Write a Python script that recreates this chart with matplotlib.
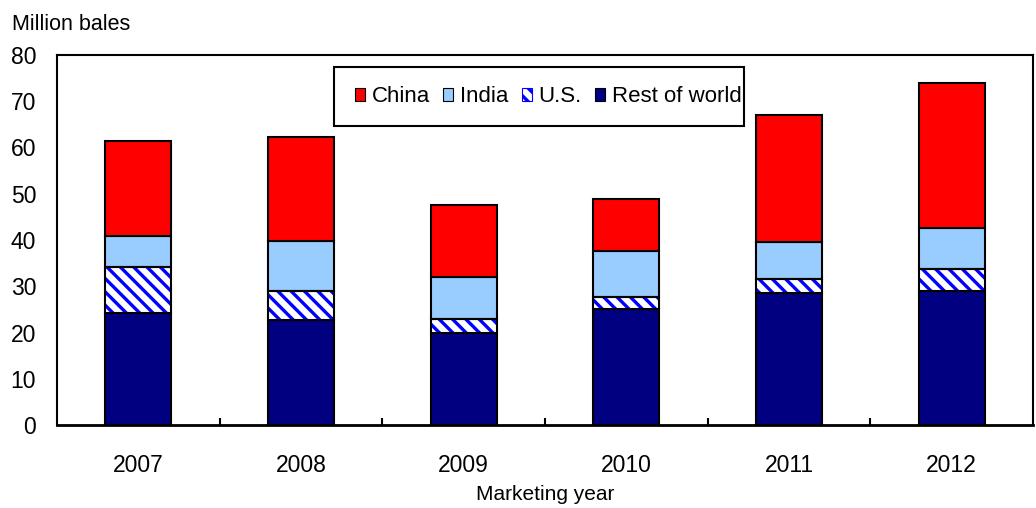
import numpy as np
import matplotlib.pyplot as plt
from matplotlib.patches import Patch, Rectangle

plt.rcParams['font.family'] = ['Liberation Sans', 'DejaVu Sans']

DPI = 80
S = 100 / DPI  # sizes below are given as if at 100 dpi
plt.rcParams['hatch.linewidth'] = 3.0

years = ['2007', '2008', '2009', '2010', '2011', '2012']
rest_of_world = [24.3, 22.8, 20.0, 25.0, 28.6, 29.0]
us = [9.8, 6.2, 2.9, 2.6, 2.9, 4.7]
india = [6.8, 10.8, 9.0, 10.0, 8.1, 9.0]
china = [20.6, 22.5, 15.7, 11.3, 27.4, 31.2]

c_china = '#ff0000'
c_india = '#99ccff'
c_rest = '#000080'
c_us = '#0000ff'

fig = plt.figure(figsize=(1036 / DPI, 508 / DPI), dpi=DPI)
ax = fig.add_axes([57 / 1036, 83 / 508, 976 / 1036, 370 / 508])

x = np.arange(len(years))
w = 0.405
lw = 1.5 * S
rest = np.array(rest_of_world)
us_a = np.array(us)
ind = np.array(india)
chn = np.array(china)

ax.bar(x, rest, w, color=c_rest, edgecolor='black', linewidth=lw, zorder=2)
# hatch drawn in blue, then outlined in black
ax.bar(x, us_a, w, bottom=rest, color='white', edgecolor=c_us, hatch='\\\\',
       linewidth=0, zorder=2)
ax.bar(x, us_a, w, bottom=rest, fill=False, edgecolor='black', linewidth=lw, zorder=3)
ax.bar(x, ind, w, bottom=rest + us_a, color=c_india, edgecolor='black', linewidth=lw, zorder=2)
ax.bar(x, chn, w, bottom=rest + us_a + ind, color=c_china, edgecolor='black',
       linewidth=lw, zorder=2)

ax.set_xlim(-0.5, len(years) - 0.5)
ax.set_ylim(0, 80)
ax.set_yticks(np.arange(0, 81, 10))
ax.tick_params(axis='y', length=0, pad=15 * S, labelsize=16.5 * S)
ax.set_xticks(x)
ax.set_xticklabels(years)
ax.tick_params(axis='x', which='major', length=0, pad=21 * S, labelsize=16.5 * S)
ax.set_xticks(np.arange(0.5, len(years) - 1, 1), minor=True)
ax.tick_params(axis='x', which='minor', direction='in', length=5 * S, width=lw)
for s in ax.spines.values():
    s.set_linewidth(lw)
ax.spines['bottom'].set_linewidth(2 * S)

ax.set_xlabel('Marketing year', fontsize=15 * S, labelpad=6 * S)
fig.text(12 / 1036, 1 - 30 / 508, 'Million bales', fontsize=15.5 * S, ha='left', va='baseline')

handles = [
    Patch(facecolor=c_china, edgecolor='black', label='China'),
    Patch(facecolor=c_india, edgecolor='black', label='India'),
    Patch(facecolor='white', edgecolor=c_us, hatch='\\\\', label='U.S.'),
    Patch(facecolor=c_rest, edgecolor='black', label='Rest of world'),
]
leg = ax.legend(handles=handles, ncol=4, loc='center left', bbox_to_anchor=(0.3053, 0.8865),
                fontsize=16 * S, frameon=False,
                handlelength=0.45, handleheight=0.55, handletextpad=0.3,
                columnspacing=0.6, borderpad=0, borderaxespad=0)
# legend frame, drawn separately
ax.add_patch(Rectangle((0.2838, 0.808), 0.4201, 0.1596, transform=ax.transAxes,
                       facecolor='white', edgecolor='black', linewidth=lw, zorder=4))
leg.set_zorder(5)

fig.savefig('out.png', dpi=DPI)
